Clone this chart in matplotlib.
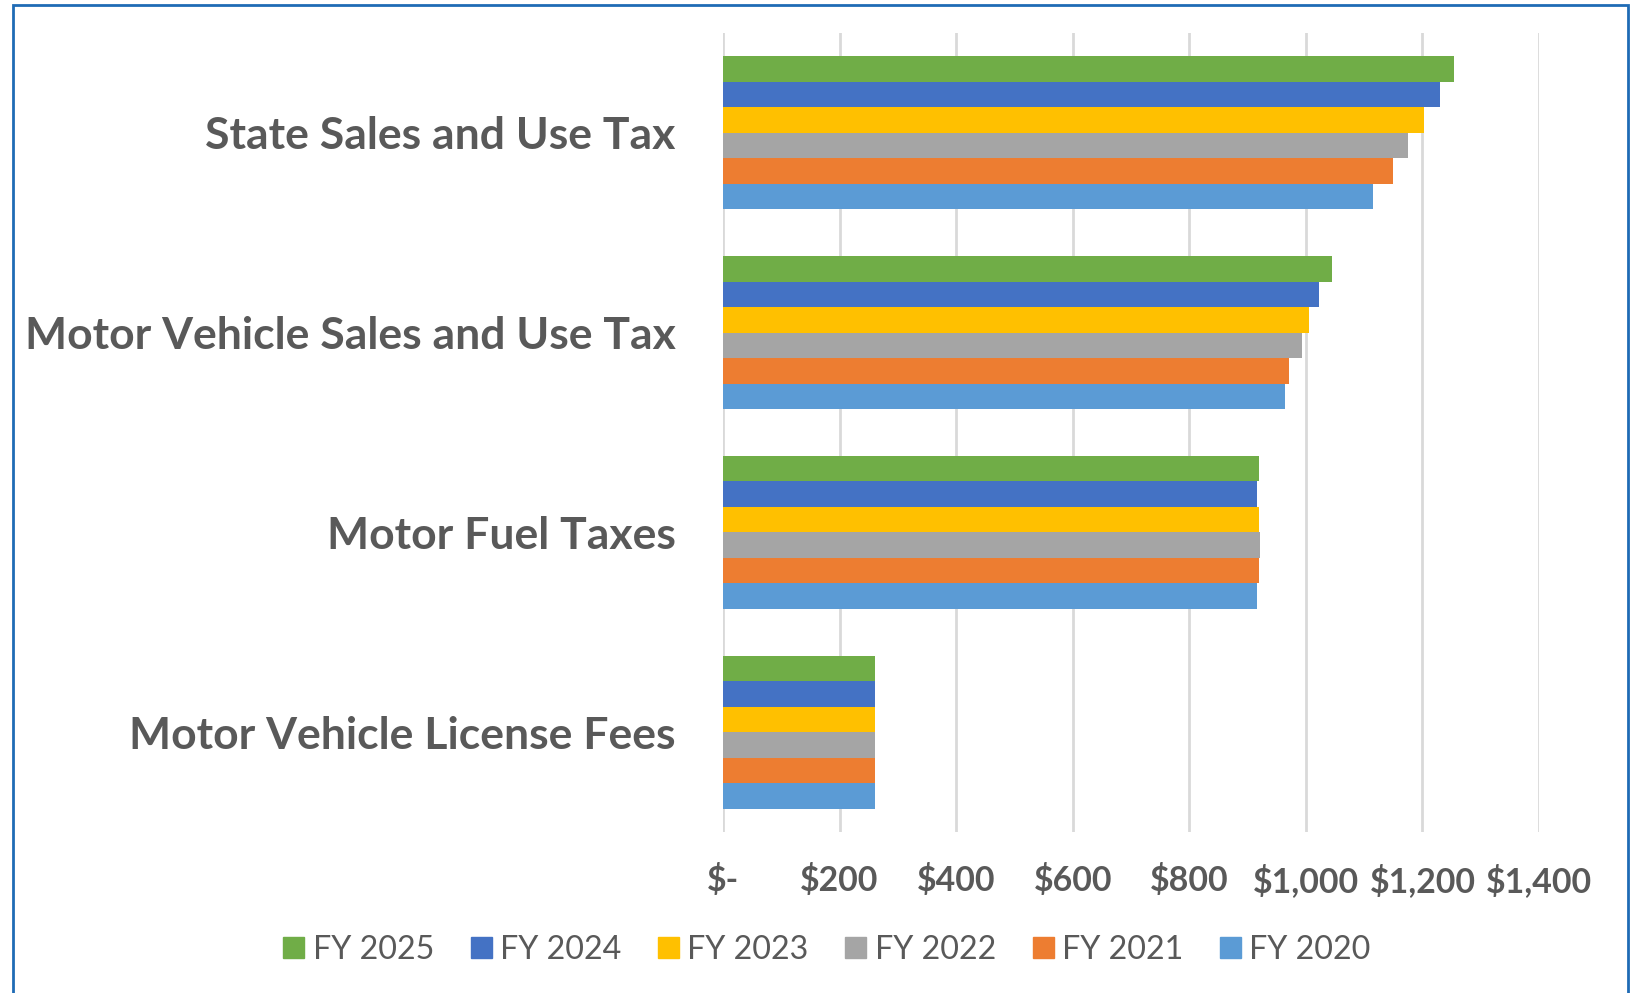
import matplotlib
matplotlib.use("Agg")
import matplotlib.pyplot as plt
from matplotlib.patches import Rectangle
import numpy as np

categories = ["State Sales and Use Tax", "Motor Vehicle Sales and Use Tax",
              "Motor Fuel Taxes", "Motor Vehicle License Fees"]
series = ["FY 2025", "FY 2024", "FY 2023", "FY 2022", "FY 2021", "FY 2020"]
fy2025 = [1254, 1044, 920, 260]
fy2024 = [1230, 1022, 916, 260]
fy2023 = [1203, 1006, 919, 260]
fy2022 = [1176, 993, 921, 260]
fy2021 = [1149, 971, 920, 260]
fy2020 = [1115, 964, 916, 260]
values = [fy2025, fy2024, fy2023, fy2022, fy2021, fy2020]
colors = ["#70AD47", "#4472C4", "#FFC000", "#A5A5A5", "#ED7D31", "#5B9BD5"]
xticks = [0, 200, 400, 600, 800, 1000, 1200, 1400]
xticklabels = ["$-", "$200", "$400", "$600", "$800", "$1,000", "$1,200", "$1,400"]

TXT = "#595959"
W, H = 1631, 993
fig = plt.figure(figsize=(W / 100, H / 100), dpi=100)
ax = fig.add_axes([723 / W, 1 - 832 / H, (1539 - 723) / W, (832 - 33) / H])

bh = 0.1277
cy = np.arange(len(categories))
for j, (name, vals) in enumerate(zip(series, values)):
    ax.barh(cy + (j - 2.5) * bh, vals, height=bh, color=colors[j],
            label=name, zorder=3)

ax.set_ylim(3.5, -0.5)
ax.set_xlim(0, 1400)
ax.set_xticks(xticks)
ax.set_xticklabels(xticklabels, fontsize=24.4, fontweight="bold",
                   color=TXT, family="Lato")
ax.set_yticks(cy)
ax.set_yticklabels(categories, fontsize=32, fontweight="bold",
                   color=TXT, family="Lato")
ax.tick_params(axis="y", length=0, pad=34)
ax.tick_params(axis="x", length=0, pad=23)
ax.grid(axis="x", color="#D9D9D9", lw=2, zorder=0)
for s in ax.spines.values():
    s.set_visible(False)

handles = [Rectangle((0, 0), 1, 1, color=c) for c in colors]
fig.legend(handles, series, loc="center", bbox_to_anchor=(0.507, 1 - 950 / H),
           ncol=6, frameon=False, handlelength=0.65, handleheight=0.65,
           handletextpad=0.26, columnspacing=1.14,
           prop={"family": "Lato", "size": 23.2}, labelcolor=TXT)

# outer blue frame
fig.add_artist(Rectangle((13 / W, -0.05), (1628 - 13) / W, 1.05 - 5 / H,
                         transform=fig.transFigure, fill=False,
                         edgecolor="#1F6BB5", lw=2, clip_on=False))

fig.savefig("out.png", dpi=100)
